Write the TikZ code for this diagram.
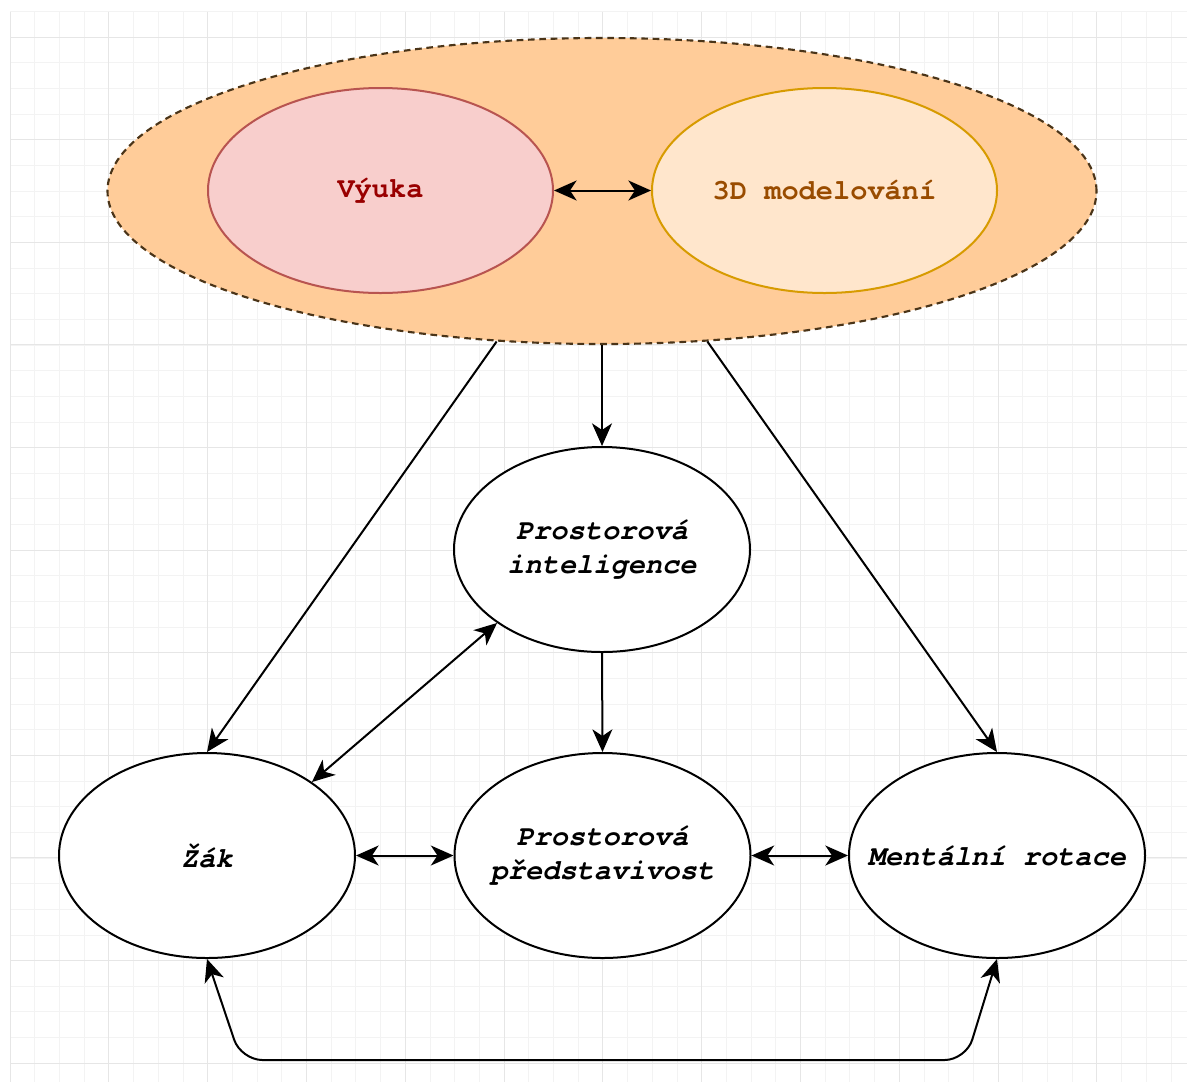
\documentclass[tikz,border=0pt]{standalone}
\usepackage{fontspec}
\setmonofont{TeX Gyre Cursor}
\usetikzlibrary{arrows.meta,shapes.geometric}
\definecolor{gridminor}{HTML}{F3F3F3}
\definecolor{gridmajor}{HTML}{E6E6E6}
\definecolor{outerfill}{HTML}{FFCC99}
\definecolor{outerdraw}{HTML}{4A3418}
\definecolor{vyfill}{HTML}{F8CECC}
\definecolor{vydraw}{HTML}{B85450}
\definecolor{vytext}{HTML}{990000}
\definecolor{mofill}{HTML}{FFE6CC}
\definecolor{modraw}{HTML}{D79B00}
\definecolor{motext}{HTML}{994C00}
\begin{document}
\begin{tikzpicture}[x=0.75pt,y=-0.75pt,
  ell/.style={ellipse,inner sep=0pt,line width=1.5pt},
  plainell/.style={ell,draw=black,fill=white,minimum width=222pt,minimum height=153.75pt},
  lbl/.style={font=\ttfamily\bfseries\itshape\fontsize{21.5}{26}\selectfont,align=center,inner sep=0pt},
  toplbl/.style={font=\ttfamily\bfseries\fontsize{21.5}{26}\selectfont,align=center,inner sep=0pt},
  arr/.style={line width=1.5pt,draw=black},
  fwd/.style={arr,arrows={-Stealth[length=17pt,width=15pt,inset=5pt]}},
  both/.style={arr,arrows={Stealth[length=17pt,width=15pt,inset=5pt]-Stealth[length=17pt,width=15pt,inset=5pt]}}
]
\useasboundingbox (0,0) rectangle (1187,1082);
\fill[white] (0,0) rectangle (1187,1082);
% grid
\foreach \i in {0,...,47} {\draw[gridminor,line width=0.6pt] ({10+24.7*\i},11.5) -- ({10+24.7*\i},1082);}
\foreach \k in {0,...,41} {\draw[gridminor,line width=0.6pt] (10,{11.5+25.65*\k}) -- (1187,{11.5+25.65*\k});}
\foreach \i in {0,...,11} {\draw[gridmajor,line width=0.7pt] ({10+98.8*\i},11.5) -- ({10+98.8*\i},1082);}
\foreach \k in {0,...,10} {\draw[gridmajor,line width=0.7pt] (10,{37+102.6*\k}) -- (1187,{37+102.6*\k});}

% top group
\node[ell,draw=outerdraw,fill=outerfill,dash pattern=on 5pt off 3.5pt,line width=1.6pt,
      minimum width=741.75pt,minimum height=229.5pt] (outer) at (602,191) {};
\node[ell,draw=vydraw,fill=vyfill,minimum width=258.75pt,minimum height=153.75pt,
      label={[toplbl,text=vytext]center:Výuka}] (vyuka) at (380.5,190.5) {};
\node[ell,draw=modraw,fill=mofill,minimum width=258.75pt,minimum height=153.75pt,
      label={[toplbl,text=motext]center:3D modelování}] (model) at (824.5,190.5) {};

% lower nodes
\node[plainell,label={[lbl]center:Prostorová\\inteligence}] (intel) at (602,549.5) {};
\node[plainell,label={[lbl]center:Žák}] (zak) at (207,855.5) {};
\node[plainell,label={[lbl]center:Prostorová\\představivost}] (pred) at (602.5,855.5) {};
\node[plainell,label={[lbl]center:Mentální rotace}] (rot) at (997,855.5) {};

% connectors
\draw[both] (vyuka.east) -- (model.west);
\draw[fwd] (outer.south) -- (intel.north);
\draw[fwd] (outer.235) -- (zak.north);
\draw[fwd] (outer.305) -- (rot.north);
\draw[both] (intel.215) -- (zak.35);
\draw[fwd] (intel.south) -- (pred.north);
\draw[both] (zak.east) -- (pred.west);
\draw[both] (pred.east) -- (rot.west);
\coordinate (bl) at (241,1060);
\coordinate (br) at (966,1060);
\draw[both,rounded corners=16pt] (zak.south) -- (bl) -- (br) -- (rot.south);
\end{tikzpicture}
\end{document}
